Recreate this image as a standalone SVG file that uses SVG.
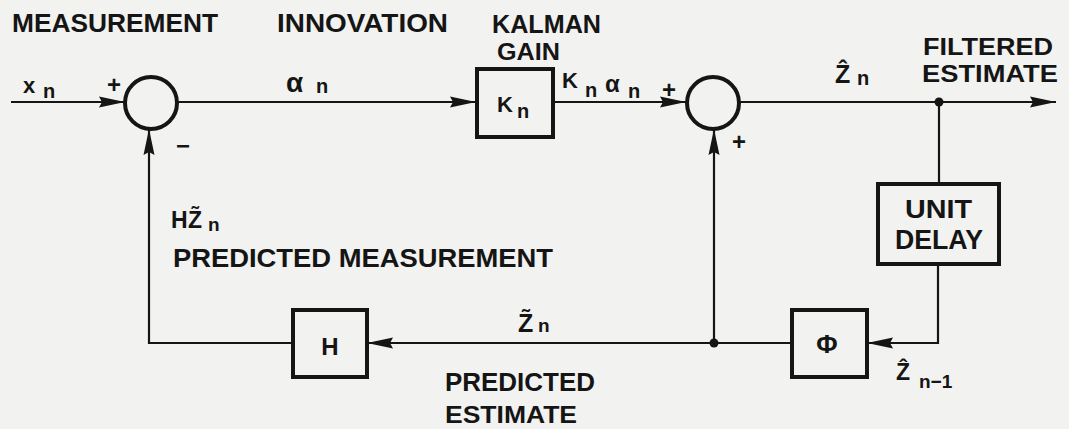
<svg xmlns="http://www.w3.org/2000/svg" width="1069" height="429" viewBox="0 0 1069 429">
<style>
.bg{fill:#f2f2f0}
.ln{fill:none;stroke:#151515;stroke-width:2.2}
.bx{fill:none;stroke:#151515;stroke-width:4}
.t{font-family:"Liberation Sans","DejaVu Sans",Arial,sans-serif;font-weight:bold;fill:#151515}
.dot{fill:#151515}
</style>
<defs>
<marker id="ah" markerUnits="userSpaceOnUse" markerWidth="28" markerHeight="12" refX="26" refY="6" orient="auto">
<path d="M0,0.5 L26,6 L0,11.5 L3,6 z" fill="#151515"/>
</marker>
</defs>
<rect class="bg" x="0" y="0" width="1069" height="429"/>

<g id="labels">
<text class="t" x="12" y="32" font-size="26" textLength="206" lengthAdjust="spacingAndGlyphs">MEASUREMENT</text>
<text class="t" x="277" y="32" font-size="26" textLength="171" lengthAdjust="spacingAndGlyphs">INNOVATION</text>
<text class="t" x="492" y="33" font-size="26" textLength="109" lengthAdjust="spacingAndGlyphs">KALMAN</text>
<text class="t" x="497" y="60" font-size="24" textLength="63" lengthAdjust="spacingAndGlyphs">GAIN</text>
<text class="t" x="923" y="55" font-size="24" textLength="130" lengthAdjust="spacingAndGlyphs">FILTERED</text>
<text class="t" x="922" y="82" font-size="23" textLength="136" lengthAdjust="spacingAndGlyphs">ESTIMATE</text>
<text class="t" x="173" y="267" font-size="25" textLength="380" lengthAdjust="spacingAndGlyphs">PREDICTED MEASUREMENT</text>
<text class="t" x="445" y="391" font-size="26" textLength="150" lengthAdjust="spacingAndGlyphs">PREDICTED</text>
<text class="t" x="445" y="423" font-size="24" textLength="132" lengthAdjust="spacingAndGlyphs">ESTIMATE</text>
<!-- math labels -->
<text class="t" x="23" y="93" font-size="22">x<tspan x="43" y="98" font-size="20">n</tspan></text>
<text class="t" x="286" y="92" font-size="28">α<tspan x="316" y="93" font-size="20">n</tspan></text>
<text class="t" x="562" y="88" font-size="22">K<tspan x="585" y="97" font-size="20">n</tspan><tspan x="605" y="92" font-size="24">α</tspan><tspan x="628" y="98" font-size="20">n</tspan></text>
<text class="t" x="835" y="83" font-size="25">Ẑ<tspan x="857" y="85" font-size="20">n</tspan></text>
<text class="t" x="171" y="228" font-size="23">H<tspan x="188" y="228" font-size="23">Z̃</tspan><tspan x="208" y="231" font-size="19">n</tspan></text>
<text class="t" x="518" y="332" font-size="25">Z̃<tspan x="538" y="332" font-size="19">n</tspan></text>
<text class="t" x="896" y="380" font-size="23">Ẑ<tspan x="919" y="388" font-size="19">n−1</tspan></text>
<!-- signs -->
<text class="t" x="114" y="93" font-size="24" text-anchor="middle">+</text>
<text class="t" x="183" y="154" font-size="24" text-anchor="middle">−</text>
<text class="t" x="669" y="98" font-size="24" text-anchor="middle">+</text>
<text class="t" x="739" y="150" font-size="24" text-anchor="middle">+</text>
</g>

<g id="connectors">
<path class="ln" d="M11,102 H125" marker-end="url(#ah)"/>
<path class="ln" d="M178,102 H476" marker-end="url(#ah)"/>
<path class="ln" d="M553,102 H686" marker-end="url(#ah)"/>
<path class="ln" d="M739,102 H1056" marker-end="url(#ah)"/>
<path class="ln" d="M939,102 V184"/>
<path class="ln" d="M938,264 V343 H867" marker-end="url(#ah)"/>
<path class="ln" d="M792,343 H367" marker-end="url(#ah)"/>
<path class="ln" d="M714,343 V129" marker-end="url(#ah)"/>
<path class="ln" d="M293,343 H149 V129" marker-end="url(#ah)"/>
<circle class="dot" cx="939" cy="102" r="4.5"/>
<circle class="dot" cx="714" cy="343" r="4.5"/>
</g>

<g id="sum1"><circle class="bx" cx="151" cy="103" r="26"/></g>
<g id="sum2"><circle class="bx" cx="713" cy="103" r="26"/></g>
<g id="kalman-gain"><rect class="bx" x="477" y="69" width="76" height="68"/>
<text class="t" x="497" y="112" font-size="22">K<tspan x="517" y="118" font-size="20">n</tspan></text></g>
<g id="unit-delay"><rect class="bx" x="878" y="184" width="121" height="80"/>
<text class="t" x="905" y="218" font-size="25" textLength="67" lengthAdjust="spacingAndGlyphs">UNIT</text>
<text class="t" x="895" y="249" font-size="28" textLength="88" lengthAdjust="spacingAndGlyphs">DELAY</text></g>
<g id="phi"><rect class="bx" x="792" y="310" width="75" height="67"/>
<text class="t" x="827" y="353" font-size="26" text-anchor="middle">Φ</text></g>
<g id="h"><rect class="bx" x="293" y="310" width="74" height="67"/>
<text class="t" x="330" y="355" font-size="24" text-anchor="middle">H</text></g>
</svg>
